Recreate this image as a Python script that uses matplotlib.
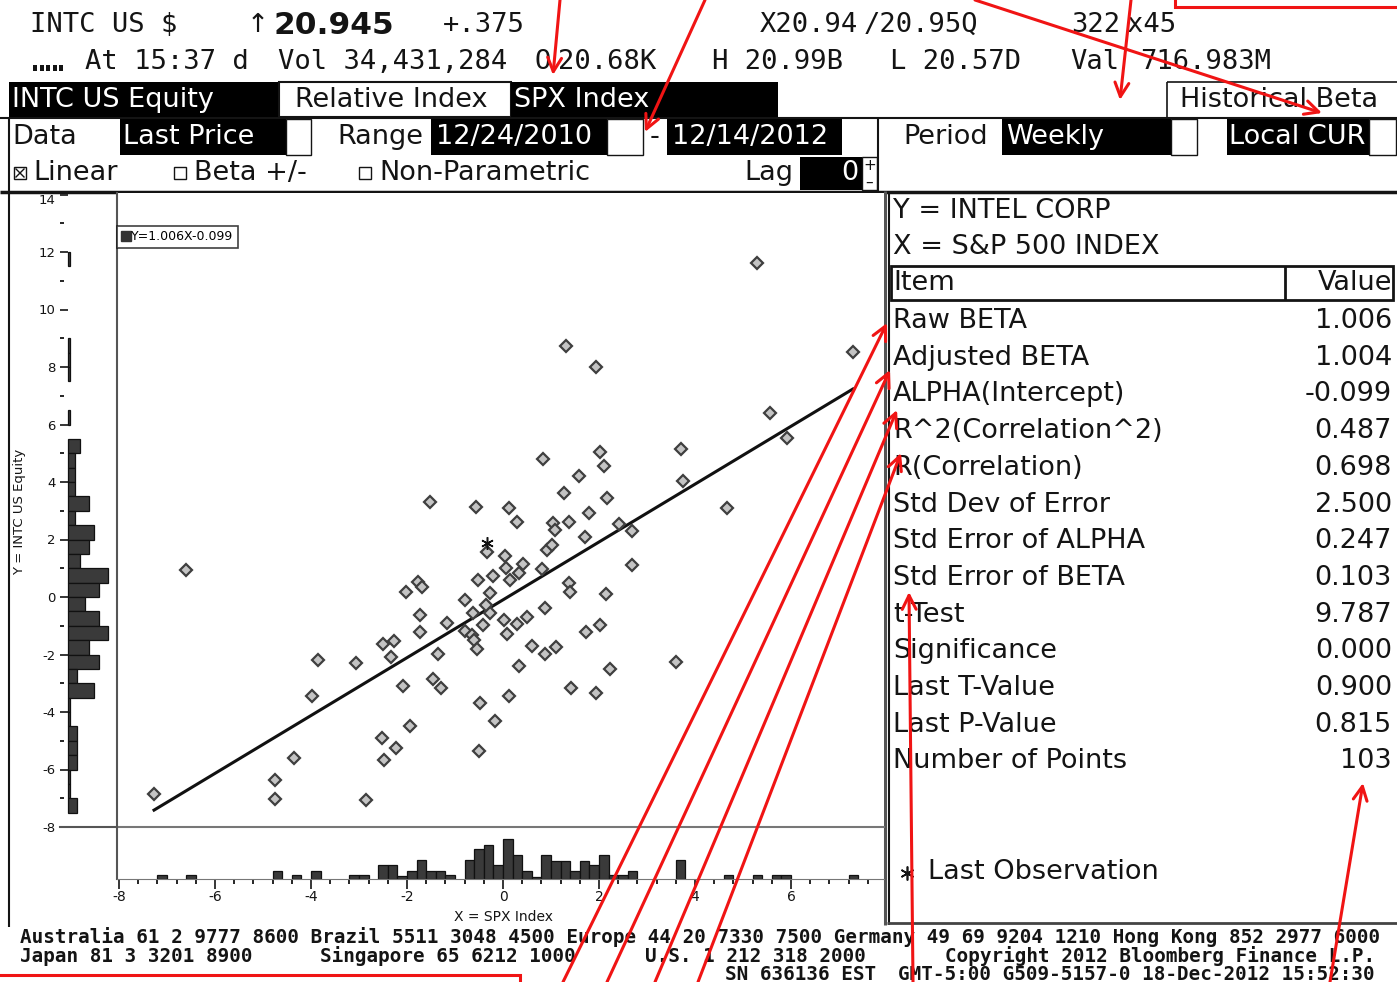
import numpy as np
import matplotlib
matplotlib.use("Agg")
import matplotlib.pyplot as plt
from matplotlib.patches import Rectangle
from matplotlib.lines import Line2D
from matplotlib.ticker import MultipleLocator

plt.rcParams["axes.unicode_minus"] = False

W, H = 1397, 982

# weekly % returns (x = SPX, y = INTC)
spx_ret = [-7.27, -6.60, -4.75, -4.75, -4.35, -3.98, -3.85, -3.06, -2.85, -2.52,
           -2.23, -2.48, -1.94, -2.08, -2.50, -2.27, -2.33, -2.02, -1.77, -1.69,
           -1.73, -1.73, -1.35, -1.46, -1.29, -1.17, -0.79, -0.79, -1.52, -0.56,
           -0.33, -0.52, -0.21, -0.27, -0.63, -0.27, -0.35, -0.65, -0.60, -0.54,
           -0.42, -0.48, -0.17, -0.50, 0.13, 0.29, 0.04, 0.06, 0.42, 0.33,
           0.15, 0.81, 0.83, 1.04, 1.08, 1.38, 1.79, 1.27, 1.58, 2.02,
           2.10, 2.17, 2.42, 2.69, 0.92, 1.02, 1.71, 2.69, 1.38, 1.40,
           2.15, 0.02, 0.29, 0.50, 0.88, 2.02, 1.73, 0.08, 0.60, 0.88,
           1.10, 0.33, 2.23, 3.60, 1.42, 1.94, 0.13, 1.31, 1.94, 5.29,
           7.29, 5.56, 5.92, 3.71, 3.75, 4.67]
intc_ret = [-6.85, 0.94, -6.37, -7.03, -5.60, -3.44, -2.19, -2.30, -7.06, -4.90,
            -5.25, -5.67, -4.49, -3.10, -1.63, -1.53, -2.09, 0.17, 0.52, 0.35,
            -0.63, -1.22, -1.98, -2.85, -3.17, -0.90, -0.10, -1.18, 3.30, 3.13,
            1.57, 0.59, 0.73, 0.14, -0.56, -0.56, -0.28, -1.32, -1.50, -1.81,
            -0.97, -3.69, -4.31, -5.36, 3.10, 2.61, 1.43, 1.01, 1.15, 0.83,
            0.59, 0.97, 4.80, 2.57, 2.33, 2.61, 2.92, 3.62, 4.21, 5.04,
            4.56, 3.44, 2.54, 2.30, 1.63, 1.81, 2.09, 1.11, 0.49, 0.17,
            0.10, -0.80, -0.94, -0.70, -0.38, -0.97, -1.22, -1.29, -1.70, -1.98,
            -1.74, -2.40, -2.50, -2.26, -3.17, -3.34, -3.44, 8.73, 8.00, 11.62,
            8.52, 6.40, 5.53, 5.15, 4.03, 3.10]
last_x, last_y = -0.33, 1.88

beta, alpha = 1.006, -0.099

# marginal histograms (bin lower edge, bar length as drawn)
x_bin_lo = [-7.2, -6.6, -4.8, -4.4, -4.0, -3.2, -3.0, -2.6, -2.4, -2.2, -2.0, -1.8,
            -1.6, -1.4, -1.2, -0.8, -0.6, -0.4, -0.2, 0.0, 0.2, 0.4, 0.6, 0.8,
            1.0, 1.2, 1.4, 1.6, 1.8, 2.0, 2.2, 2.4, 2.6, 3.6, 4.6, 5.2, 5.6, 5.8, 7.2]
x_bin_h = [1, 1, 2, 1, 2, 1, 1, 3.5, 3.5, 0.75, 2, 4.75,
           2, 2, 1, 4.75, 7.5, 8.5, 3.5, 10, 6, 2, 0.5, 6,
           4.5, 4.5, 2, 4.5, 3.5, 6, 1, 1, 2, 4.75, 1, 1, 1, 1, 1]
y_bin_lo = [11.5, 8.5, 8.0, 7.5, 6.0, 5.0, 4.5, 4.0, 3.5, 3.0, 2.5, 2.0, 1.5, 1.0,
            0.5, 0.0, -0.5, -1.0, -1.5, -2.0, -2.5, -3.0, -3.5, -4.0, -4.5,
            -5.0, -5.5, -6.0, -6.5, -7.0, -7.5]
y_bin_len = [0.5, 0.5, 0.5, 0.5, 0.5, 3, 1.75, 1.75, 1.75, 5.25, 1.75, 6.5, 5.25, 3,
             10, 7.75, 4.25, 7.75, 10, 5.25, 7.75, 2.25, 6.5, 0.5, 0.5,
             2.25, 2.25, 2.25, 0.5, 0.5, 2.25]

stat_names = ["Raw BETA", "Adjusted BETA", "ALPHA(Intercept)", "R^2(Correlation^2)",
              "R(Correlation)", "Std Dev of Error", "Std Error of ALPHA",
              "Std Error of BETA", "t-Test", "Significance", "Last T-Value",
              "Last P-Value", "Number of Points"]
stat_values = ["1.006", "1.004", "-0.099", "0.487", "0.698", "2.500", "0.247",
               "0.103", "9.787", "0.000", "0.900", "0.815", "103"]

fig = plt.figure(figsize=(W / 100, H / 100), dpi=100)
fig.patch.set_facecolor("white")


def fbox(x0, y0, x1, y1):
    return [x0 / W, 1 - y1 / H, (x1 - x0) / W, (y1 - y0) / H]


# screen furniture in pixel coordinates
ui = fig.add_axes([0, 0, 1, 1])
ui.set_xlim(0, W)
ui.set_ylim(H, 0)
ui.axis("off")

INK = "#141414"
SANS = "DejaVu Sans"
MONO = "DejaVu Sans Mono"


def txt(x, y, s, size=19.5, color=INK, ha="left", family=SANS, weight="normal", **kw):
    ui.text(x, y, s, fontsize=size, color=color, ha=ha, va="center",
            family=family, weight=weight, **kw)


def rect(x0, y0, x1, y1, fc="none", ec="none", lw=1.0, ax=None):
    (ax or ui).add_patch(Rectangle((x0, y0), x1 - x0, y1 - y0, facecolor=fc,
                                   edgecolor=ec, linewidth=lw))


def hline(y, x0, x1, lw=1.5, color=INK):
    ui.plot([x0, x1], [y, y], color=color, lw=lw, solid_capstyle="butt")


def vline(x, y0, y1, lw=1.5, color=INK):
    ui.plot([x, x], [y0, y1], color=color, lw=lw, solid_capstyle="butt")


# quote lines
txt(30, 25, "INTC US $", family=MONO)
txt(247, 25, "\u2191", size=19)
txt(274, 25, "20.945", size=22.5, weight="bold")
txt(443, 25, "+.375", family=MONO)
txt(760, 25, "X20.94", family=MONO)
txt(864, 25, "/20.95Q", family=MONO)
txt(1071, 25, "322", family=MONO)
txt(1127, 25, "x45", family=MONO)
for i in range(5):
    rect(33 + i * 6.6, 65, 37 + i * 6.6, 71, fc=INK)
txt(85, 62, "At 15:37 d", family=MONO)
txt(278, 62, "Vol 34,431,284", family=MONO)
txt(535, 62, "O", family=MONO)
txt(558, 62, "20.68K", family=MONO)
txt(712, 62, "H 20.99B", family=MONO)
txt(890, 62, "L 20.57D", family=MONO)
txt(1070, 62, "Val", family=MONO)
txt(1140, 62, "716.983M", family=MONO)

# security / index bar
rect(9, 82, 279, 117, fc="black")
txt(12, 100, "INTC US Equity", color="white")
rect(279, 82, 511, 117, fc="white", ec=INK, lw=1.5)
txt(295, 100, "Relative Index")
rect(511, 82, 778, 117, fc="black")
txt(514, 100, "SPX Index", color="white")
hline(82, 1167, W, lw=1.2)
vline(1167, 82, 117, lw=1.2)
txt(1180, 100, "Historical Beta")
hline(117.5, 0, W, lw=1.5)

# settings row
txt(12, 137, "Data")
rect(120, 119, 286, 155, fc="black")
txt(123, 137, "Last Price", color="white")
rect(286, 119, 311, 155, fc="white", ec=INK, lw=1)
txt(337, 137, "Range")
rect(431, 119, 607, 155, fc="black")
txt(436, 137, "12/24/2010", color="white")
rect(607, 119, 643, 155, fc="white", ec=INK, lw=1)
txt(650, 137, "-")
rect(667, 119, 842, 155, fc="black")
txt(672, 137, "12/14/2012", color="white")
vline(878, 117, 191, lw=1.5)
txt(903, 137, "Period")
rect(1002, 119, 1171, 155, fc="black")
txt(1006, 137, "Weekly", color="white")
rect(1171, 119, 1197, 155, fc="white", ec=INK, lw=1)
rect(1227, 119, 1369, 155, fc="black")
txt(1229, 137, "Local CUR", color="white")
rect(1369, 119, 1396, 155, fc="white", ec=INK, lw=1)

# options row
rect(14, 167, 26, 179, ec=INK, lw=1)
ui.plot([16, 24], [169, 177], color=INK, lw=1)
ui.plot([16, 24], [177, 169], color=INK, lw=1)
txt(33, 173, "Linear")
rect(174, 167, 186, 179, ec=INK, lw=1)
txt(194, 173, "Beta +/-")
rect(359, 167, 371, 179, ec=INK, lw=1)
txt(379, 173, "Non-Parametric")
txt(744, 173, "Lag")
rect(800, 157, 862, 190, fc="black")
txt(858, 173, "0", color="white", ha="right")
rect(862, 157, 877, 190, fc="white", ec=INK, lw=1)
txt(869.5, 165, "+", size=11, ha="center")
txt(869.5, 182, "\u2013", size=11, ha="center")
hline(191.5, 0, W, lw=2.5)

# frames
vline(9, 117, 927, lw=1.5)
vline(885, 191, 925, lw=2.2, color="#555555")
vline(889, 191, 925, lw=1.5)
hline(923, 887, W, lw=2, color="#444444")

# stats panel
txt(893, 211, "Y = INTEL CORP")
txt(893, 247, "X = S&P 500 INDEX")
rect(891, 266, 1393, 300, ec=INK, lw=2)
vline(1285, 266, 300, lw=2)
txt(893, 283, "Item")
txt(1392, 283, "Value", ha="right")
for i, (nm, val) in enumerate(zip(stat_names, stat_values)):
    yy = 321 + i * 36.7
    txt(893, yy, nm)
    txt(1392, yy, val, ha="right")
ui.plot(907, 873, marker=(6, 2, 0), ms=10, color=INK, mew=1.2)
txt(928, 872, "Last Observation")

txt(20, 512, "Y = INTC US Equity", size=9.5, rotation=90, ha="center")
txt(503, 917, "X = SPX Index", size=10, ha="center")

# footer
foot = dict(family=MONO, size=13.9, weight="bold")
txt(20, 937, "Australia 61 2 9777 8600 Brazil 5511 3048 4500 Europe 44 20 7330 7500 "
             "Germany 49 69 9204 1210 Hong Kong 852 2977 6000", **foot)
txt(20, 956, "Japan 81 3 3201 8900", **foot)
txt(320, 956, "Singapore 65 6212 1000", **foot)
txt(645, 956, "U.S. 1 212 318 2000", **foot)
txt(945, 956, "Copyright 2012 Bloomberg Finance L.P.", **foot)
txt(725, 974, "SN 636136 EST", **foot)
txt(898, 974, "GMT-5:00 G509-5157-0 18-Dec-2012 15:52:30", **foot)

# scatter
XL = ((117 - 503) / 48, (884 - 503) / 48)
YL = ((597 - 827) / 28.75, (597 - 193) / 28.75)

ax = fig.add_axes(fbox(117, 193, 884, 827))
ax.set_xlim(*XL)
ax.set_ylim(*YL)
ax.set_xticks([])
ax.set_yticks([])
ax.spines["top"].set_visible(False)
ax.spines["right"].set_visible(False)
ax.spines["left"].set_color("#555555")
ax.spines["left"].set_linewidth(1.5)
ax.spines["bottom"].set_color("#777777")
ax.spines["bottom"].set_linewidth(1.5)

ax.plot(spx_ret, intc_ret, ls="none", marker="D", ms=6.2, mfc="#c4c4c4",
        mec="#3f3f3f", mew=1.6, zorder=3)
xs = np.array([min(spx_ret), max(spx_ret)])
ax.plot(xs, beta * xs + alpha, color="#111111", lw=2.2, zorder=2)
ax.plot(last_x, last_y, marker=(6, 2, 0), ms=9, color="#111111", mew=1.1, zorder=4)

leg_handle = Line2D([], [], ls="none", marker="s", ms=7.5, color="#333333")
leg = ax.legend([leg_handle], [f"Y={beta:.3f}X{alpha:+.3f}"], loc="upper left",
                bbox_to_anchor=(0.0, 0.948), borderaxespad=0, fontsize=9,
                frameon=True, fancybox=False, handlelength=0.7, handletextpad=0.1,
                borderpad=0.35)
leg.get_frame().set_edgecolor("#111111")
leg.get_frame().set_linewidth(1.2)

# y marginal histogram
axy = fig.add_axes(fbox(60, 193, 117, 827))
axy.set_facecolor("none")
axy.set_ylim(*YL)
axy.set_xlim(-8 / 4, 49 / 4)
axy.barh(y_bin_lo, y_bin_len, height=0.5, align="edge", color="#3a3a3a",
         edgecolor="#111111", linewidth=0.9)
axy.set_xticks([])
axy.set_yticks(np.arange(-8, 15, 2))
axy.yaxis.set_minor_locator(MultipleLocator(1))
axy.tick_params(axis="y", which="major", direction="in", length=6, width=1.2,
                pad=3, labelsize=9.5, colors=INK)
axy.tick_params(axis="y", which="minor", direction="in", length=3, width=1.2)
axy.get_yticklabels()[-1].set_va("top")
for s in ("left", "top", "right"):
    axy.spines[s].set_visible(False)
axy.spines["bottom"].set_color("#555555")
axy.spines["bottom"].set_linewidth(1.5)

# x marginal histogram
axx = fig.add_axes(fbox(117, 829, 884, 879))
axx.set_facecolor("none")
axx.set_xlim(*XL)
axx.set_ylim(0, 50 / 4)
axx.bar(x_bin_lo, x_bin_h, width=0.2, align="edge", color="#3a3a3a",
        edgecolor="#111111", linewidth=0.9)
axx.set_yticks([])
axx.xaxis.set_major_locator(MultipleLocator(2))
axx.xaxis.set_minor_locator(MultipleLocator(0.4))
axx.tick_params(axis="x", which="major", direction="out", length=7, width=1.2,
                pad=1, labelsize=10, colors=INK)
axx.tick_params(axis="x", which="minor", direction="out", length=3.5, width=1.2)
for s in ("top", "right"):
    axx.spines[s].set_visible(False)
axx.spines["bottom"].set_color("#777777")
axx.spines["left"].set_color("#555555")
axx.spines["left"].set_linewidth(1.5)

# red markup on top of the screenshot
red = fig.add_axes([0, 0, 1, 1], zorder=20)
red.set_xlim(0, W)
red.set_ylim(H, 0)
red.axis("off")
red.patch.set_alpha(0)
RED = "#f01414"
arrows = [((560, 0), (553, 75)), ((705, 0), (645, 132)), ((975, 0), (1322, 113)),
          ((1131, 0), (1120, 100)), ((563, 982), (887, 323)), ((607, 982), (890, 370)),
          ((655, 982), (897, 410)), ((698, 982), (901, 453)), ((913, 982), (909, 592)),
          ((1330, 982), (1363, 783))]
for (x0, y0), (x1, y1) in arrows:
    red.annotate("", xy=(x1, y1), xytext=(x0, y0), annotation_clip=False,
                 arrowprops=dict(arrowstyle="->,head_length=1.0,head_width=0.5",
                                 color=RED, lw=2.2, shrinkA=0, shrinkB=0))
rect(1175, -5, 1402, 7, ec=RED, lw=2.2, ax=red)
rect(-5, 975, 520, 990, ec=RED, lw=2.2, ax=red)

fig.savefig("out.png", dpi=100, facecolor="white")
